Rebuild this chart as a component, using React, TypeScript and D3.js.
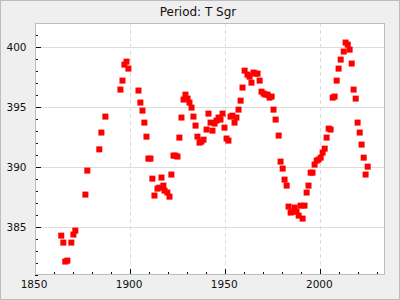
import React from "react";
import * as d3 from "d3";

const years: number[] = [
  1863.8, 1864.9, 1865.9, 1867.0, 1869.1, 1870.2, 1871.2, 1876.5, 1877.5, 1883.8,
  1884.9, 1887.0, 1894.9, 1896.0, 1897.0, 1898.1, 1899.1, 1904.4, 1905.4, 1906.5,
  1907.5, 1908.6, 1909.6, 1910.7, 1911.7, 1912.8, 1914.4, 1915.4, 1916.5, 1917.5,
  1918.1, 1919.6, 1920.7, 1921.7, 1922.8, 1923.8, 1924.9, 1925.9, 1927.0, 1928.1,
  1929.1, 1930.2, 1931.2, 1932.3, 1933.3, 1934.4, 1935.4, 1936.5, 1937.5, 1938.6,
  1940.2, 1941.2, 1942.3, 1943.3, 1944.4, 1945.4, 1946.5, 1947.5, 1948.6, 1949.6,
  1950.7, 1951.7, 1952.8, 1953.8, 1954.9, 1955.9, 1957.0, 1958.1, 1959.1, 1960.2,
  1961.7, 1962.8, 1963.8, 1964.9, 1965.9, 1967.0, 1968.1, 1969.1, 1970.2, 1971.2,
  1972.3, 1973.3, 1974.4, 1975.4, 1976.5, 1978.1, 1979.1, 1980.2, 1981.2, 1982.3,
  1983.3, 1984.4, 1985.4, 1986.5, 1987.5, 1988.6, 1989.6, 1990.7, 1991.7, 1992.8,
  1993.8, 1994.9, 1995.9, 1997.0, 1998.1, 1999.1, 2000.2, 2001.2, 2002.3, 2003.3,
  2004.4, 2005.4, 2006.5, 2007.5, 2008.6, 2009.6, 2010.7, 2012.3, 2013.3, 2014.4,
  2015.4, 2016.5, 2017.5, 2018.6, 2019.6, 2020.7, 2021.7, 2022.8, 2023.8, 2024.9,
];

const periods: number[] = [
  384.28, 383.70, 382.12, 382.20, 383.70, 384.37, 384.70, 387.70, 389.70, 391.47,
  392.87, 394.20, 396.45, 397.20, 398.53, 398.78, 398.20, 396.37, 395.37, 394.70,
  393.70, 392.53, 390.70, 390.70, 389.03, 387.62, 388.20, 388.28, 389.12, 388.45,
  388.03, 387.87, 387.53, 389.37, 390.95, 390.95, 390.87, 392.45, 394.12, 395.62,
  396.03, 395.70, 395.37, 394.95, 394.20, 393.45, 392.53, 392.03, 392.12, 392.28,
  393.12, 394.45, 393.70, 393.03, 393.62, 393.87, 394.12, 393.95, 394.45, 393.28,
  392.37, 392.20, 394.20, 394.28, 393.70, 394.12, 394.78, 395.53, 396.62, 398.03,
  397.70, 397.53, 397.03, 397.87, 397.78, 397.78, 397.20, 396.28, 396.12, 396.03,
  396.03, 395.78, 395.87, 394.78, 393.95, 392.62, 390.45, 389.87, 388.95, 388.45,
  386.70, 386.20, 386.28, 386.62, 386.28, 385.95, 386.78, 385.70, 386.78, 387.87,
  388.45, 389.53, 389.53, 390.20, 390.53, 390.62, 390.78, 391.20, 391.53, 392.45,
  393.20, 393.12, 395.78, 395.87, 397.20, 398.20, 398.95, 399.62, 400.37, 400.20,
  399.78, 398.62, 396.45, 395.70, 393.70, 392.87, 391.87, 390.78, 389.37, 390.03,
];

const xMajorTicks: number[] = [1850, 1900, 1950, 2000];
const yMajorTicks: number[] = [385, 390, 395, 400];
const title = "Period: T Sgr";

const W = 400;
const H = 300;
const plot = { left: 35, right: 385, top: 23, bottom: 275 };
const FONT = "DejaVu Sans, sans-serif";

export default function App() {
  const x = d3.scaleLinear().domain([1850, 2034]).range([plot.left, plot.right]);
  const y = d3.scaleLinear().domain([381, 402]).range([plot.bottom, plot.top]);
  const xMinor = d3.range(1850, 2034, 10);
  const yMinor = d3.range(381, 403, 1);
  const s = 6;

  return (
    <svg
      width={W}
      height={H}
      style={{ position: "absolute", left: 0, top: 0 }}
      fontFamily={FONT}
    >
      <rect x={0.5} y={0.5} width={W - 1} height={H - 1} fill="#efefef" stroke="#bcbcbc" />
      <text x={198} y={15.5} textAnchor="middle" fontSize={12} fill="#111">
        {title}
      </text>
      <rect
        x={plot.left}
        y={plot.top}
        width={plot.right - plot.left}
        height={plot.bottom - plot.top}
        fill="#ffffff"
      />
      {yMajorTicks.map((v) => (
        <line
          key={"gy" + v}
          x1={plot.left}
          x2={plot.right}
          y1={Math.round(y(v)) + 0.5}
          y2={Math.round(y(v)) + 0.5}
          stroke="#dcdcdc"
        />
      ))}
      {xMajorTicks
        .filter((v) => v > 1850)
        .map((v) => (
          <line
            key={"gx" + v}
            x1={Math.round(x(v)) + 0.5}
            x2={Math.round(x(v)) + 0.5}
            y1={plot.top}
            y2={plot.bottom}
            stroke="#dcdcdc"
            strokeDasharray="4,3"
          />
        ))}
      {yMinor.map((v) => {
        const major = yMajorTicks.includes(v);
        return (
          <line
            key={"ty" + v}
            x1={plot.left}
            x2={plot.left + (major ? 6 : 3)}
            y1={Math.round(y(v)) + 0.5}
            y2={Math.round(y(v)) + 0.5}
            stroke="#111"
          />
        );
      })}
      {xMinor.map((v) => {
        const major = xMajorTicks.includes(v);
        return (
          <line
            key={"tx" + v}
            x1={Math.round(x(v)) + 0.5}
            x2={Math.round(x(v)) + 0.5}
            y1={plot.bottom}
            y2={plot.bottom - (major ? 6 : 3)}
            stroke="#111"
          />
        );
      })}
      <rect
        x={plot.left + 0.5}
        y={plot.top + 0.5}
        width={plot.right - plot.left - 1}
        height={plot.bottom - plot.top - 1}
        fill="none"
        stroke="#bcbcbc"
      />
      {years.map((yr, i) => (
        <rect
          key={"p" + i}
          x={x(yr) - s / 2}
          y={y(periods[i]) - s / 2}
          width={s}
          height={s}
          fill="#ff0000"
        />
      ))}
      {yMajorTicks.map((v) => (
        <text
          key={"ly" + v}
          x={26.5}
          y={y(v) + 4}
          textAnchor="end"
          fontSize={10.5}
          fill="#111"
        >
          {v}
        </text>
      ))}
      {xMajorTicks.map((v) => (
        <text
          key={"lx" + v}
          x={x(v) - 1}
          y={287.5}
          textAnchor="middle"
          fontSize={10.5}
          fill="#111"
        >
          {v}
        </text>
      ))}
    </svg>
  );
}
